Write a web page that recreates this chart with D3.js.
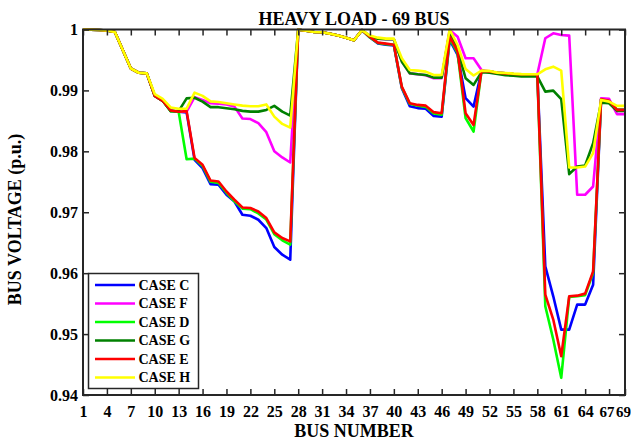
<!DOCTYPE html>
<html>
<head>
<meta charset="utf-8">
<script src="https://cdn.jsdelivr.net/npm/d3@7"></script>
<style>
  body { margin: 0; background: #fff; }
  text { font-family: "Liberation Serif", "Times New Roman", serif; font-weight: bold; fill: #000; }
</style>
</head>
<body>
<svg id="plot" width="631" height="440"></svg>
<script>
const buses = d3.range(1, 70)
const xTicks = [1, 4, 7, 10, 13, 16, 19, 22, 25, 28, 31, 34, 37, 40, 43, 46, 49, 52, 55, 58, 61, 64, 67, 69]
const yTicks = [0.94, 0.95, 0.96, 0.97, 0.98, 0.99, 1]

const caseNames = ["CASE C", "CASE F", "CASE D", "CASE G", "CASE E", "CASE H"]

const caseC = [
    1, 0.99997, 0.99993, 0.99984, 0.9996, 0.9966, 0.9936, 0.9929, 0.9928, 0.9891,
    0.9883, 0.9867, 0.9865, 0.9864, 0.9786, 0.97725, 0.97462, 0.97451, 0.97287, 0.97177,
    0.96959, 0.96943, 0.96877, 0.96741, 0.9643, 0.96303, 0.96221, 0.99995, 0.9998, 0.9996,
    0.99955, 0.9993, 0.999, 0.99866, 0.99823, 0.9999, 0.9987, 0.9977, 0.9975, 0.9974,
    0.99036, 0.9874, 0.9871, 0.987, 0.9858, 0.9857, 0.99828, 0.99582, 0.98872, 0.98734,
    0.9932, 0.9931, 0.9929, 0.9928, 0.9927, 0.99265, 0.99265, 0.99265, 0.96112, 0.9562,
    0.95074, 0.95074, 0.95484, 0.95484, 0.95811, 0.98844, 0.98816, 0.9868, 0.9868
]
const caseF = [
    1, 0.99997, 0.99993, 0.99984, 0.9996, 0.9966, 0.9936, 0.9929, 0.9928, 0.9891,
    0.9883, 0.9867, 0.9865, 0.9865, 0.9889, 0.98844, 0.9879, 0.9878, 0.9877, 0.98734,
    0.98538, 0.9853, 0.98462, 0.98314, 0.98, 0.979, 0.97817, 0.99995, 0.9998, 0.9996,
    0.99955, 0.9993, 0.999, 0.99866, 0.99823, 0.9999, 0.9989, 0.9985, 0.9984, 0.9984,
    0.9948, 0.9928, 0.99265, 0.9925, 0.992, 0.992, 0.99992, 0.99882, 0.99528, 0.99528,
    0.99336, 0.9931, 0.9929, 0.9928, 0.9927, 0.99265, 0.99265, 0.99265, 0.99856, 0.99938,
    0.9991, 0.99899, 0.97287, 0.97287, 0.97423, 0.98872, 0.98861, 0.9861, 0.9861
]
const caseD = [
    1, 0.99997, 0.99993, 0.99984, 0.9996, 0.9966, 0.9936, 0.9929, 0.9928, 0.9891,
    0.9883, 0.9866, 0.9865, 0.9787, 0.9788, 0.9776, 0.975, 0.9748, 0.9732, 0.9718,
    0.9706, 0.9705, 0.9698, 0.9688, 0.9664, 0.9654, 0.9647, 0.99995, 0.9998, 0.9996,
    0.99955, 0.9993, 0.999, 0.99866, 0.99823, 0.9999, 0.9987, 0.9978, 0.9976, 0.9975,
    0.9905, 0.9878, 0.9875, 0.9873, 0.9862, 0.986, 0.99856, 0.9961, 0.98544, 0.98325,
    0.9932, 0.9931, 0.9929, 0.9928, 0.9927, 0.99265, 0.99265, 0.99265, 0.95456, 0.9491,
    0.94282, 0.9561, 0.9562, 0.9564, 0.96003, 0.9885, 0.9882, 0.9868, 0.9868
]
const caseG = [
    1, 0.99997, 0.99993, 0.99984, 0.9996, 0.9966, 0.9936, 0.9929, 0.9928, 0.9891,
    0.9883, 0.9866, 0.9866, 0.9887, 0.9888, 0.98816, 0.98725, 0.98725, 0.98708, 0.98692,
    0.98664, 0.98652, 0.98652, 0.9868, 0.98746, 0.98652, 0.98587, 0.99995, 0.9998, 0.9996,
    0.99955, 0.9993, 0.999, 0.99866, 0.99823, 0.9999, 0.9989, 0.9985, 0.9984, 0.9984,
    0.99472, 0.99282, 0.99265, 0.99254, 0.9921, 0.9921, 0.99964, 0.99664, 0.992, 0.9909,
    0.993, 0.9929, 0.9927, 0.9925, 0.9924, 0.9923, 0.9923, 0.9923, 0.9898, 0.98997,
    0.98856, 0.97626, 0.9775, 0.97767, 0.98134, 0.988, 0.9879, 0.98664, 0.98664
]
const caseE = [
    1, 0.99997, 0.99993, 0.99984, 0.9996, 0.9966, 0.9936, 0.9929, 0.9928, 0.9891,
    0.9883, 0.9867, 0.9865, 0.9866, 0.97889, 0.97779, 0.97521, 0.97505, 0.97341, 0.97205,
    0.97079, 0.97069, 0.97013, 0.96905, 0.96669, 0.96577, 0.96521, 0.99995, 0.9998, 0.9996,
    0.99955, 0.9993, 0.999, 0.99866, 0.99823, 0.9999, 0.99877, 0.99784, 0.99768, 0.99751,
    0.99062, 0.9879, 0.98762, 0.9875, 0.98643, 0.98626, 0.99882, 0.99636, 0.98626, 0.98434,
    0.9932, 0.9931, 0.9929, 0.9928, 0.9927, 0.99265, 0.99265, 0.99265, 0.95648, 0.95238,
    0.94636, 0.9562, 0.95631, 0.95664, 0.96029, 0.98856, 0.9883, 0.9868, 0.9868
]
const caseH = [
    1, 0.99997, 0.99993, 0.99984, 0.9996, 0.9966, 0.9936, 0.9929, 0.9928, 0.9894,
    0.9886, 0.9872, 0.987, 0.987, 0.98964, 0.9891, 0.9882, 0.9881, 0.9879, 0.9877,
    0.9875, 0.9874, 0.9874, 0.9877, 0.9857, 0.9845, 0.9839, 0.99995, 0.9998, 0.9996,
    0.99955, 0.9993, 0.999, 0.99866, 0.99823, 0.9999, 0.999, 0.99866, 0.9985, 0.9985,
    0.99528, 0.99336, 0.99325, 0.99309, 0.99254, 0.99254, 1, 0.99746, 0.9935, 0.99245,
    0.99325, 0.9932, 0.99292, 0.99287, 0.99275, 0.99268, 0.99265, 0.99265, 0.99347, 0.9939,
    0.99325, 0.97735, 0.97735, 0.9775, 0.9797, 0.98844, 0.98816, 0.98746, 0.98746
]

const colors = ["#0000ff", "#ff00ff", "#00ff00", "#008000", "#ff0000", "#ffff00"]
const series = [caseC, caseF, caseD, caseG, caseE, caseH].map((values, i) => ({
    name: caseNames[i],
    color: colors[i],
    values: values.map((v, j) => ({ bus: buses[j], value: v }))
}))

const width = 631
const height = 440
const margin = { top: 29.5, right: 6, bottom: 45, left: 83 }
const axisColor = "#262626"
const tickLen = 6

const x = d3.scaleLinear()
    .domain([1, 69])
    .range([margin.left, width - margin.right])

const y = d3.scaleLinear()
    .domain([0.94, 1])
    .range([height - margin.bottom, margin.top])

const svg = d3.select("#plot")

const line = d3.line()
    .x(d => x(d.bus))
    .y(d => y(d.value))

// data lines, legend order = drawing order (yellow ends on top)
svg.append("g")
  .selectAll("path")
  .data(series)
  .join("path")
    .attr("fill", "none")
    .attr("stroke", d => d.color)
    .attr("stroke-width", 2.6)
    .attr("stroke-linejoin", "round")
    .attr("d", d => line(d.values))

// axes, ticks pointing inward like matlab
const styleAxis = g => {
    g.select(".domain").remove()
    g.selectAll(".tick line").attr("stroke", axisColor).attr("stroke-width", 1.5)
    g.selectAll(".tick text").attr("font-size", 16).attr("font-family", "Liberation Serif").attr("font-weight", "bold")
}

svg.append("g")
    .attr("transform", `translate(0,${y(0.94)})`)
    .call(d3.axisBottom(x).tickValues(xTicks).tickSizeInner(-tickLen).tickSizeOuter(0).tickPadding(11))
    .call(styleAxis)
    // 67 and 69 sit 2 buses apart at the right edge: squeeze them together like the original "6769"
    .call(g => g.selectAll(".tick text").filter(d => d === 67)
        .attr("font-size", 15)
        .attr("text-anchor", "end")
        .attr("x", 5))
    .call(g => g.selectAll(".tick text").filter(d => d === 69)
        .attr("font-size", 15)
        .attr("text-anchor", "end")
        .attr("x", 5.5))

svg.append("g")
    .attr("transform", `translate(0,${y(1)})`)
    .call(d3.axisTop(x).tickValues(xTicks).tickSizeInner(-tickLen).tickSizeOuter(0).tickFormat(""))
    .call(styleAxis)

svg.append("g")
    .attr("transform", `translate(${x(1)},0)`)
    .call(d3.axisLeft(y).tickValues(yTicks).tickSizeInner(-tickLen).tickSizeOuter(0).tickPadding(5)
        .tickFormat(d => d === 1 ? "1" : d3.format(".2f")(d)))
    .call(styleAxis)

svg.append("g")
    .attr("transform", `translate(${x(69)},0)`)
    .call(d3.axisRight(y).tickValues(yTicks).tickSizeInner(-tickLen).tickSizeOuter(0).tickFormat(""))
    .call(styleAxis)

svg.append("rect")
    .attr("x", x(1))
    .attr("y", y(1))
    .attr("width", x(69) - x(1))
    .attr("height", y(0.94) - y(1))
    .attr("fill", "none")
    .attr("stroke", axisColor)
    .attr("stroke-width", 2)

// titles
svg.append("text")
    .attr("x", 354)
    .attr("y", 25)
    .attr("text-anchor", "middle")
    .attr("font-size", 18)
    .text("HEAVY LOAD - 69 BUS")

svg.append("text")
    .attr("x", 354)
    .attr("y", 437)
    .attr("text-anchor", "middle")
    .attr("font-size", 18)
    .text("BUS NUMBER")

svg.append("text")
    .attr("transform", "translate(21,219.5) rotate(-90)")
    .attr("text-anchor", "middle")
    .attr("font-size", 18)
    .text("BUS VOLTAGE (p.u.)")

// legend
const legend = svg.append("g").attr("transform", "translate(88.5,273.5)")

legend.append("rect")
    .attr("width", 110)
    .attr("height", 115)
    .attr("fill", "#fff")
    .attr("stroke", axisColor)
    .attr("stroke-width", 1.5)

const rows = legend.selectAll("g.row")
  .data(series)
  .join("g")
    .attr("class", "row")
    .attr("transform", (d, i) => `translate(0,${11.5 + i * 18.5})`)

rows.append("line")
    .attr("x1", 6.5)
    .attr("x2", 46.5)
    .attr("stroke", d => d.color)
    .attr("stroke-width", 2.6)

rows.append("text")
    .attr("x", 50)
    .attr("dy", "0.35em")
    .attr("font-size", 14)
    .text(d => d.name)
</script>
</body>
</html>
